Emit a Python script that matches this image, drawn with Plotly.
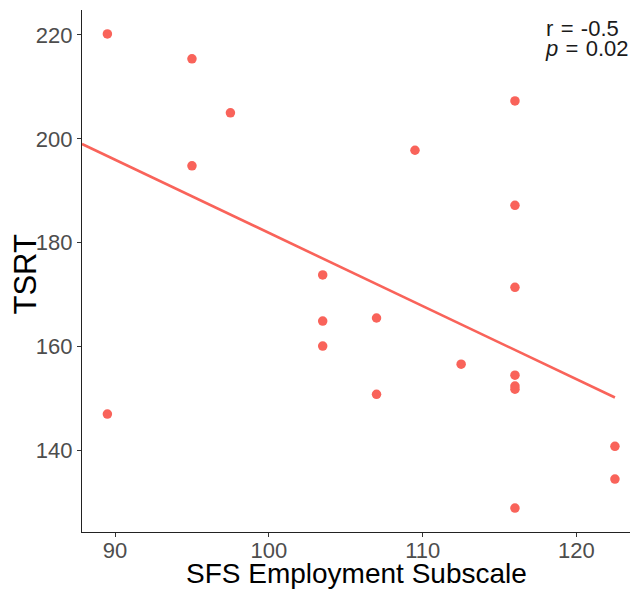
import plotly.graph_objects as go

# Data
sfs_employment = [89.5, 95, 97.5, 95, 89.5, 103.5, 103.5, 103.5, 107, 107, 109.5,
                  112.5, 116, 116, 116, 116, 116, 116, 116, 122.5, 122.5]
tsrt = [220.2, 215.4, 205.0, 194.8, 147.0, 173.8, 164.9, 160.1, 165.5, 150.8, 197.8,
        156.6, 207.3, 187.2, 171.4, 154.5, 152.4, 151.8, 128.9, 140.8, 134.5]

fit_x = [87.85, 122.5]
fit_y = [199.0, 150.2]

x_ticks = [90, 100, 110, 120]
y_ticks = [140, 160, 180, 200, 220]

x_title = "SFS Employment Subscale"
y_title = "TSRT"
stat_r = "r\u2004=\u2004-0.5"
stat_p = "<i>p</i>\u2004=\u20040.02"

red = "#F9635A"
fam = "Liberation Sans, Arial, sans-serif"
tick_font = dict(family=fam, size=22, color="#4D4D4D")

fig = go.Figure()
fig.add_trace(go.Scatter(x=fit_x, y=fit_y, mode="lines",
                         line=dict(color=red, width=2.6), hoverinfo="skip"))
fig.add_trace(go.Scatter(x=sfs_employment, y=tsrt, mode="markers",
                         marker=dict(color=red, size=9.5, line=dict(width=0))))

# statistics text
fig.add_annotation(xref="paper", yref="paper", x=0.900, y=0.964, xanchor="center", yanchor="middle",
                   text=stat_r, showarrow=False,
                   font=dict(family=fam, size=22, color="#1a1a1a"))
fig.add_annotation(xref="paper", yref="paper", x=0.908, y=0.927, xanchor="center", yanchor="middle",
                   text=stat_p, showarrow=False,
                   font=dict(family=fam, size=22, color="#1a1a1a"))

# axis titles
fig.add_annotation(xref="paper", yref="paper", x=0.4946, y=-0.080, xanchor="center", yanchor="middle",
                   text=x_title, showarrow=False, font=dict(family=fam, size=28, color="black"))
fig.add_annotation(xref="paper", yref="paper", x=-0.1025, y=0.4933, xanchor="center", yanchor="middle",
                   text=y_title, showarrow=False, textangle=-90,
                   font=dict(family=fam, size=31, color="black"))

fig.update_layout(
    width=630, height=582,
    margin=dict(l=74, r=0, t=2, b=58),
    paper_bgcolor="white", plot_bgcolor="white",
    showlegend=False,
    xaxis=dict(range=[87.85, 124.0], tickvals=x_ticks, ticks="outside", ticklen=4,
               tickcolor="#333333", tickwidth=1, showline=True, linecolor="#222222", linewidth=1.2,
               showgrid=False, zeroline=False, tickfont=tick_font, automargin=False,
               ticklabelstandoff=-6),
    yaxis=dict(range=[124.3, 224.8], tickvals=y_ticks, ticks="outside", ticklen=4,
               tickcolor="#333333", tickwidth=1, showline=True, linecolor="#222222", linewidth=1.2,
               showgrid=False, zeroline=False, tickfont=tick_font, automargin=False),
)

fig.write_html("out.html")
